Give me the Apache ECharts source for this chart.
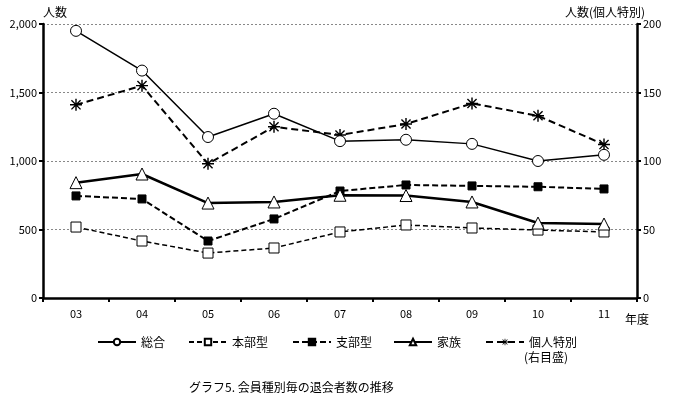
<!DOCTYPE html>
<html>
<head>
<meta charset="utf-8">
<script src="https://cdn.jsdelivr.net/npm/echarts@6/dist/echarts.min.js"></script>
<style>
  html, body { margin: 0; padding: 0; background: #fff; }
  #chart { width: 680px; height: 397px; }
</style>
</head>
<body>
<div id="chart"></div>
<script>
// 年度
const years = ['03', '04', '05', '06', '07', '08', '09', '10', '11']
// 左目盛
const sogo = [1950, 1660, 1175, 1345, 1145, 1155, 1125, 1000, 1045]
const honbu = [518, 416, 328, 365, 482, 533, 511, 496, 482]
const shibu = [745, 723, 416, 577, 781, 825, 818, 812, 796]
const kazoku = [842, 905, 693, 701, 750, 748, 701, 547, 540]
// 右目盛
const kojin = [141, 155, 98, 125, 119, 127, 142, 133, 112]
const leftTicks = ['0', '500', '1,000', '1,500', '2,000']
const names = ['総合', '本部型', '支部型', '家族', '個人特別']

const font = "'Noto Sans CJK JP', sans-serif"
const star = 'path://M4.4 0 L5.6 0 L5.6 10 L4.4 10 Z M0.8 1.6 L1.6 0.8 L9.2 8.4 L8.4 9.2 Z M8.4 0.8 L9.2 1.6 L1.6 9.2 L0.8 8.4 Z M0 4.4 L10 4.4 L10 5.6 L0 5.6 Z'

// 凡例は項目ごとに置く
const legendLeft = [92, 183, 287, 388, 480]
const legends = names.map((n, i) => ({
  left: legendLeft[i],
  top: 331,
  itemWidth: 38,
  itemHeight: 8,
  textStyle: { fontSize: 12, color: '#000', fontFamily: font },
  data: [n]
}))

const chart = echarts.init(document.getElementById('chart'))
chart.setOption({
  animation: false,
  textStyle: { fontFamily: font, color: '#000' },
  title: {
    text: 'グラフ5. 会員種別毎の退会者数の推移',
    left: 184,
    top: 376,
    textStyle: { fontSize: 12, fontWeight: 'normal', color: '#000', fontFamily: font }
  },
  legend: legends,
  graphic: [
    {
      type: 'text',
      left: 524,
      top: 351,
      style: { text: '(右目盛)', fontSize: 12, fill: '#000', fontFamily: font }
    }
  ],
  grid: { left: 43, right: 43, top: 24, bottom: 99 },
  xAxis: {
    type: 'category',
    data: years,
    boundaryGap: true,
    name: '年度',
    nameLocation: 'end',
    nameGap: -12,
    nameTextStyle: { fontSize: 12, color: '#000', verticalAlign: 'top', padding: [15, 0, 0, 0] },
    axisLine: { lineStyle: { color: '#000', width: 2.5 } },
    axisTick: { show: true, length: 4, lineStyle: { color: '#000', width: 2 } },
    axisLabel: { color: '#000', fontSize: 11, margin: 10 }
  },
  yAxis: [
    {
      type: 'value',
      min: 0,
      max: 2000,
      interval: 500,
      name: '人数',
      nameLocation: 'end',
      nameGap: 6,
      nameTextStyle: { fontSize: 12, color: '#000', align: 'left' },
      axisLine: { show: true, lineStyle: { color: '#000', width: 2.5 } },
      axisTick: { show: true, length: 4, lineStyle: { color: '#000', width: 2 } },
      axisLabel: {
        color: '#000', fontSize: 11, margin: 6,
        formatter: v => leftTicks[v / 500]
      },
      splitLine: { show: true, lineStyle: { color: '#888', type: [2, 2], width: 1 } }
    },
    {
      type: 'value',
      min: 0,
      max: 200,
      interval: 50,
      name: '人数(個人特別)',
      nameLocation: 'end',
      nameGap: 6,
      nameTextStyle: { fontSize: 12, color: '#000', align: 'right', padding: [0, -8, 0, 0] },
      axisLine: { show: true, lineStyle: { color: '#000', width: 2.5 } },
      axisTick: { show: true, length: 4, lineStyle: { color: '#000', width: 2 } },
      axisLabel: { color: '#000', fontSize: 11, margin: 6 },
      splitLine: { show: false }
    }
  ],
  series: [
    {
      name: '総合',
      type: 'line',
      data: sogo,
      symbol: 'circle',
      symbolSize: 11,
      lineStyle: { color: '#000', width: 1.5 },
      itemStyle: { color: '#fff', borderColor: '#000', borderWidth: 1 },
      z: 5
    },
    {
      name: '本部型',
      type: 'line',
      data: honbu,
      symbol: 'rect',
      symbolSize: 10,
      lineStyle: { color: '#000', width: 1.5, type: [5, 3] },
      itemStyle: { color: '#fff', borderColor: '#000', borderWidth: 1 }
    },
    {
      name: '支部型',
      type: 'line',
      data: shibu,
      symbol: 'rect',
      symbolSize: 8,
      lineStyle: { color: '#000', width: 2, type: [6, 3] },
      itemStyle: { color: '#000', borderColor: '#000', borderWidth: 1 }
    },
    {
      name: '家族',
      type: 'line',
      data: kazoku,
      symbol: 'triangle',
      symbolSize: 12,
      lineStyle: { color: '#000', width: 2.5 },
      itemStyle: { color: '#fff', borderColor: '#000', borderWidth: 1 }
    },
    {
      name: '個人特別',
      type: 'line',
      yAxisIndex: 1,
      data: kojin,
      symbol: star,
      symbolSize: 12,
      lineStyle: { color: '#000', width: 2, type: [7, 4] },
      itemStyle: { color: '#000', borderWidth: 0 }
    }
  ]
})
</script>
</body>
</html>
